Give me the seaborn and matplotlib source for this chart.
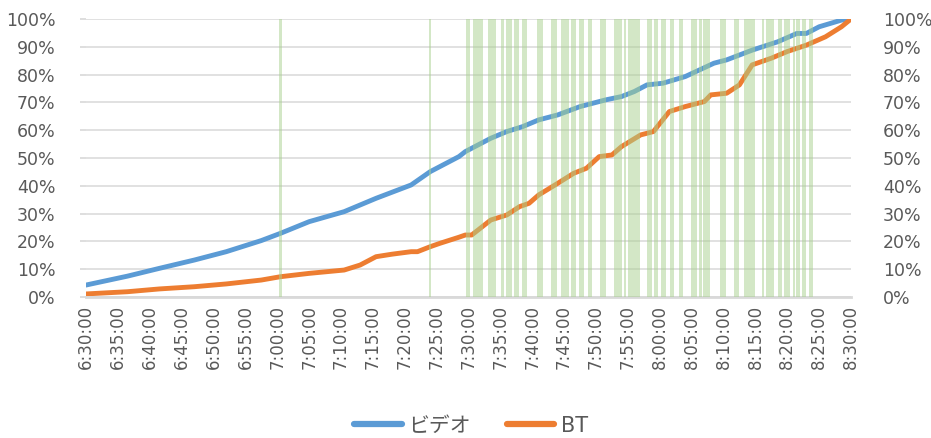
import numpy as np
import pandas as pd
import matplotlib
matplotlib.use("Agg")
import matplotlib.pyplot as plt
from matplotlib.lines import Line2D
from matplotlib.ticker import FixedLocator, PercentFormatter
import seaborn as sns

# Cumulative share (%) of each series over the morning
video_times = ["6:30:00", "6:36:30", "6:41:30", "6:47:00", "6:52:00", "6:57:30",
               "7:00:30", "7:05:00", "7:10:30", "7:15:30", "7:21:00", "7:24:00",
               "7:28:30", "7:29:30", "7:33:30", "7:36:00", "7:38:30", "7:41:00",
               "7:44:00", "7:47:30", "7:51:30", "7:54:00", "7:56:00", "7:58:00",
               "8:00:30", "8:04:00", "8:08:30", "8:10:30", "8:14:30", "8:18:30",
               "8:21:30", "8:23:00", "8:25:00", "8:28:30", "8:30:00"]
video_share = [4.3, 7.5, 10.3, 13.3, 16.3, 20.3,
               22.9, 27.1, 30.7, 35.5, 40.3, 45.1,
               50.5, 52.3, 57.1, 59.5, 61.3, 63.7,
               65.5, 68.5, 70.9, 72.1, 73.9, 76.3,
               76.9, 79.3, 84.1, 85.3, 88.8, 91.8,
               94.8, 94.8, 97.2, 99.6, 100.0]

bt_times = ["6:30:00", "6:36:30", "6:41:30", "6:47:00", "6:52:00", "6:57:30",
            "7:00:30", "7:05:00", "7:10:30", "7:13:00", "7:15:30", "7:18:00",
            "7:21:00", "7:22:00", "7:24:00", "7:25:30", "7:28:30", "7:29:30",
            "7:30:30", "7:33:30", "7:36:00", "7:38:00", "7:39:30", "7:41:00",
            "7:44:00", "7:46:30", "7:48:30", "7:50:30", "7:52:30", "7:54:00",
            "7:57:00", "7:58:00", "7:59:00", "8:01:30", "8:04:00", "8:07:00",
            "8:08:00", "8:10:30", "8:12:30", "8:14:30", "8:17:30", "8:20:00",
            "8:23:00", "8:26:00", "8:28:30", "8:30:00"]
bt_share = [1.1, 1.9, 2.9, 3.7, 4.7, 6.1,
            7.3, 8.5, 9.7, 11.5, 14.5, 15.4,
            16.3, 16.3, 18.1, 19.3, 21.5, 22.3,
            22.3, 27.7, 29.5, 32.5, 33.7, 36.7,
            40.9, 44.5, 46.3, 50.5, 51.1, 54.1,
            58.3, 58.9, 59.5, 66.7, 68.5, 70.3,
            72.7, 73.3, 76.3, 83.5, 85.9, 88.3,
            90.6, 93.6, 97.2, 100.0]

# Periods flagged on the secondary axis (start, end)
flag_start = ["7:00:20", "7:23:50", "7:29:40", "7:30:40", "7:33:00", "7:35:10",
              "7:35:50", "7:37:10", "7:38:20", "7:40:40", "7:43:00", "7:44:30",
              "7:46:00", "7:47:20", "7:48:40", "7:50:40", "7:52:50", "7:54:20",
              "7:55:00", "7:58:00", "7:59:10", "8:00:10", "8:01:40", "8:03:00",
              "8:04:50", "8:06:10", "8:06:50", "8:09:30", "8:11:40", "8:13:10",
              "8:16:00", "8:16:40", "8:18:30", "8:19:30", "8:20:50", "8:21:20",
              "8:22:20", "8:23:20"]
flag_end = ["7:00:40", "7:24:10", "7:30:10", "7:32:20", "7:34:20", "7:35:30",
            "7:36:50", "7:38:00", "7:39:10", "7:41:40", "7:43:50", "7:45:50",
            "7:46:50", "7:48:10", "7:49:20", "7:51:30", "7:54:00", "7:54:40",
            "7:56:50", "7:58:50", "7:59:40", "8:01:00", "8:02:10", "8:03:40",
            "8:05:50", "8:06:40", "8:07:50", "8:10:20", "8:12:30", "8:15:00",
            "8:16:20", "8:18:00", "8:19:10", "8:20:30", "8:21:10", "8:22:00",
            "8:23:00", "8:24:00"]

tick_labels = ["6:30:00", "6:35:00", "6:40:00", "6:45:00", "6:50:00", "6:55:00",
               "7:00:00", "7:05:00", "7:10:00", "7:15:00", "7:20:00", "7:25:00",
               "7:30:00", "7:35:00", "7:40:00", "7:45:00", "7:50:00", "7:55:00",
               "8:00:00", "8:05:00", "8:10:00", "8:15:00", "8:20:00", "8:25:00",
               "8:30:00"]
series_names = ["ビデオ", "BT"]
series_colors = ["#5B9BD5", "#ED7D31"]


def to_minutes(s):
    h, m, sec = (int(p) for p in s.split(":"))
    return h * 60 + m + sec / 60


sns.set_theme(style="white")
plt.rcParams["font.family"] = ["DejaVu Sans", "Noto Sans CJK JP"]
text_gray = "#595959"
grid_gray = "#D9D9D9"

df = pd.concat([
    pd.DataFrame({"time": [to_minutes(t) for t in video_times],
                  "share": np.array(video_share) / 100, "series": series_names[0]}),
    pd.DataFrame({"time": [to_minutes(t) for t in bt_times],
                  "share": np.array(bt_share) / 100, "series": series_names[1]}),
], ignore_index=True)

fig = plt.figure(figsize=(9.31, 4.38), dpi=100)
ax = fig.add_axes([86 / 931, 1 - 297 / 438, 765 / 931, 278 / 438])

palette = dict(zip(series_names, series_colors))
sns.lineplot(data=df, x="time", y="share", hue="series", palette=palette,
             linewidth=3.5, ax=ax, legend=False, sort=False)
for ln in ax.lines:
    ln.set_solid_capstyle("round")
    ln.set_solid_joinstyle("round")

ticks = [to_minutes(t) for t in tick_labels]
ax.set_xlim(ticks[0], ticks[-1])
ax.set_ylim(0, 1)
ax.xaxis.set_major_locator(FixedLocator(ticks))
ax.set_xticklabels(tick_labels, rotation=90, fontsize=12, color=text_gray)
ax.set_yticks(np.linspace(0, 1, 11))
ax.yaxis.set_major_formatter(PercentFormatter(1, decimals=0))
ax.tick_params(axis="y", labelsize=12.5, labelcolor=text_gray, length=4,
               color=grid_gray, pad=18)
ax.tick_params(axis="x", length=0, pad=6)
ax.yaxis.grid(True, color=grid_gray, linewidth=1.1)
ax.set_xlabel("")
ax.set_ylabel("")
for name, sp in ax.spines.items():
    sp.set_visible(name == "bottom")
ax.spines["bottom"].set_color(grid_gray)
ax.spines["bottom"].set_linewidth(2)

# Flagged periods on the secondary axis, drawn over the lines
ax2 = ax.twinx()
starts = np.array([to_minutes(t) for t in flag_start])
ends = np.array([to_minutes(t) for t in flag_end])
ax2.bar(starts, height=1.0, width=ends - starts, bottom=0, align="edge",
        color="#A9D18E", alpha=0.5, linewidth=0)
ax2.set_ylim(0, 1)
ax2.set_yticks(np.linspace(0, 1, 11))
ax2.yaxis.set_major_formatter(PercentFormatter(1, decimals=0))
ax2.tick_params(axis="y", labelsize=12.5, labelcolor=text_gray, length=0, pad=23)
ax2.grid(False)
for sp in ax2.spines.values():
    sp.set_visible(False)
ax2.set_xlim(ticks[0], ticks[-1])

handles = [Line2D([0], [0], color=c, linewidth=4.5, solid_capstyle="round")
           for c in series_colors]
fig.legend(handles, series_names, loc="center", bbox_to_anchor=(0.506, 0.028),
           ncol=2, frameon=False, fontsize=15, labelcolor=text_gray,
           handlelength=2.3, handletextpad=0.3, columnspacing=1.7)

fig.savefig("out.png", dpi=100)
